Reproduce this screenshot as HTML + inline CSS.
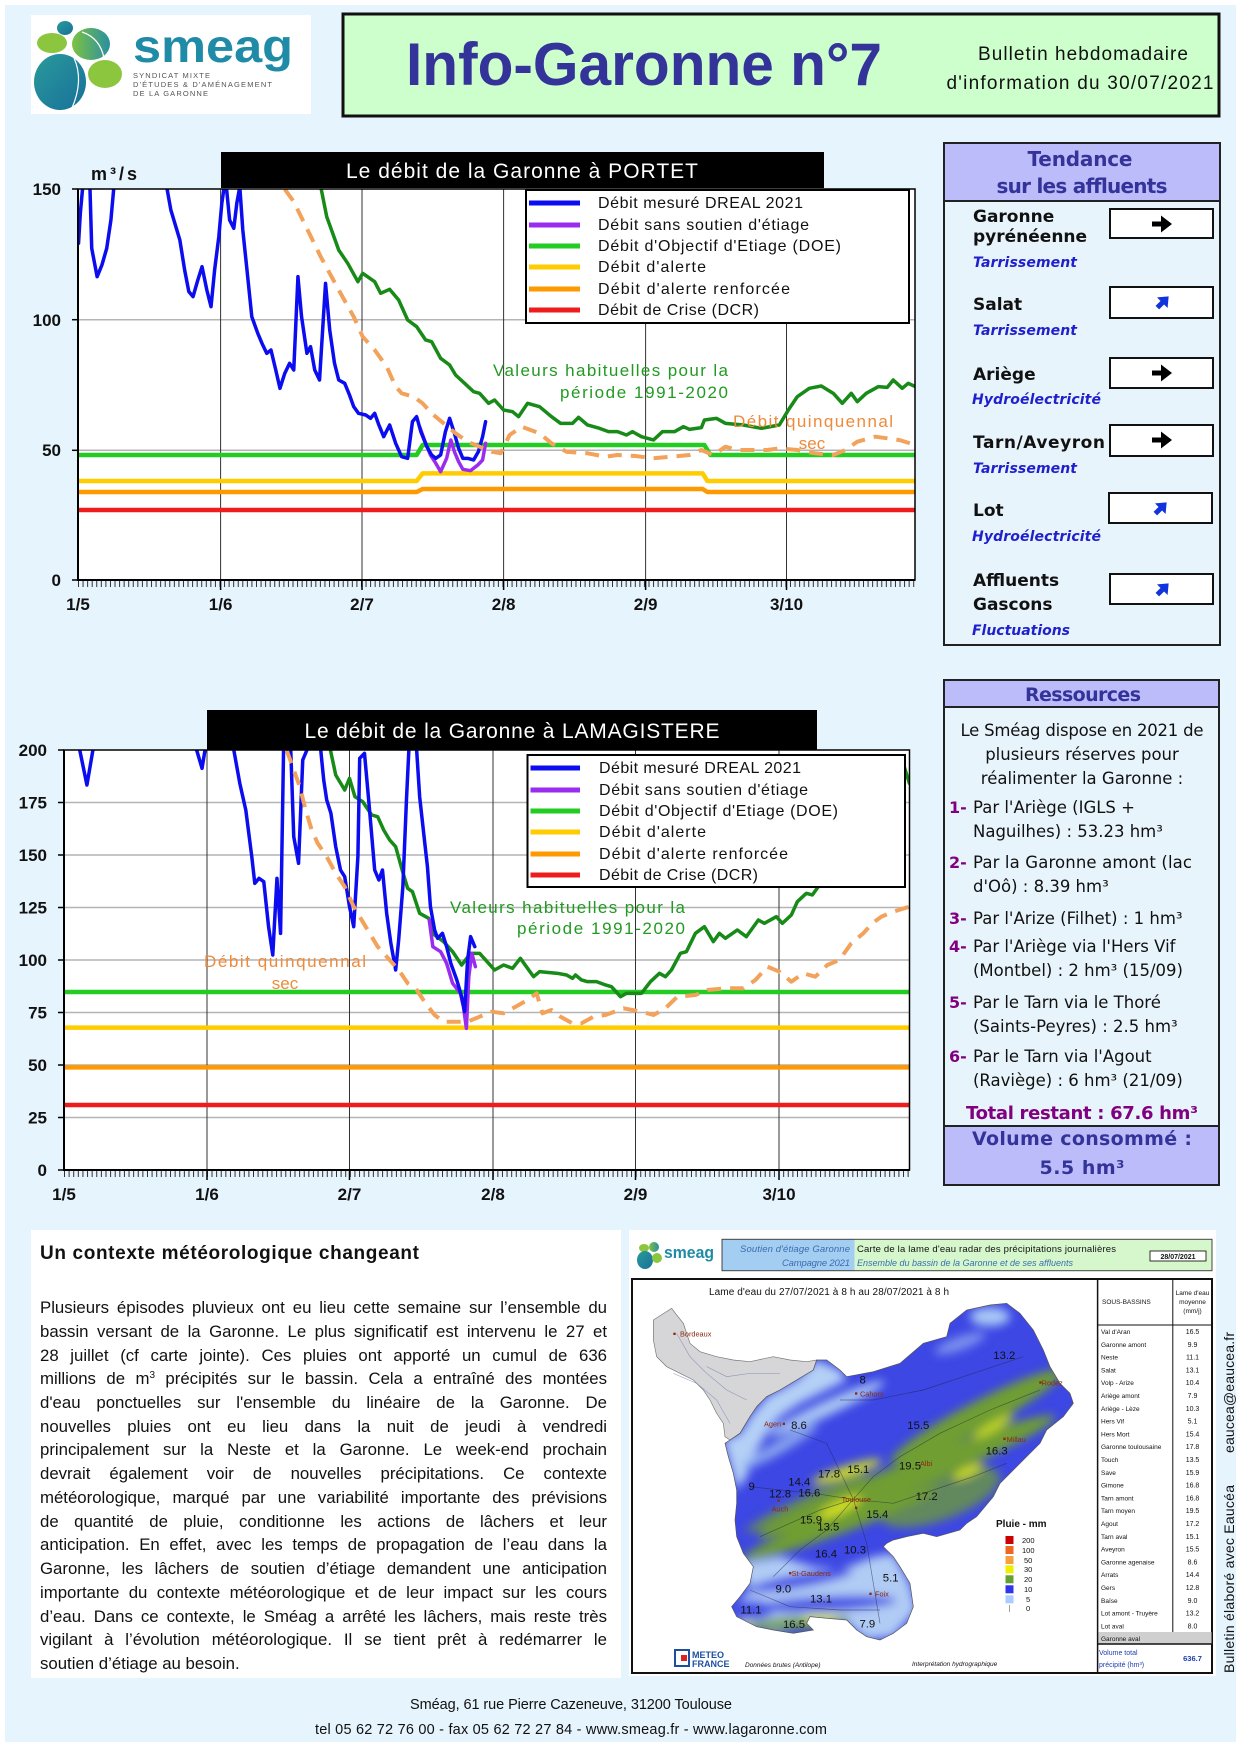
<!DOCTYPE html>
<html><head><meta charset="utf-8"><style>
html,body{margin:0;padding:0;background:#fff}
svg{display:block}
#wrap{position:relative;width:1240px;height:1754px;overflow:hidden}
.p{position:absolute;left:40px;width:567px;height:24px;font-family:"Liberation Sans",sans-serif;font-size:16.8px;line-height:23.73px;color:#111;text-align:justify;text-align-last:justify;white-space:nowrap}
.p.l{text-align-last:left}
.p sup{font-size:10px;line-height:0;vertical-align:6px}
</style></head>
<body>
<div id="wrap">
<svg xmlns="http://www.w3.org/2000/svg" width="1240" height="1754" viewBox="0 0 1240 1754" font-family="'Liberation Sans', sans-serif">
<defs>
<clipPath id="c1"><rect x="78" y="189" width="837" height="391"/></clipPath>
<clipPath id="c2"><rect x="64" y="750" width="845.5" height="420"/></clipPath>
<filter id="bl" x="-30%" y="-30%" width="160%" height="160%"><feGaussianBlur stdDeviation="14"/></filter>
<linearGradient id="lg1" x1="0" y1="0" x2="1" y2="1"><stop offset="0" stop-color="#8cc63f"/><stop offset="1" stop-color="#1f86a6"/></linearGradient>
<linearGradient id="lg2" x1="0" y1="0" x2="1" y2="1"><stop offset="0" stop-color="#2a9a9a"/><stop offset="1" stop-color="#17709a"/></linearGradient>
<linearGradient id="lg3" x1="0" y1="0" x2="1" y2="0"><stop offset="0" stop-color="#7dc242"/><stop offset="1" stop-color="#2a8fa0"/></linearGradient>
</defs>

<rect x="5" y="5" width="1231" height="1737" fill="#e6f4fd"/>

<!-- logo -->
<rect x="31" y="15" width="280" height="99" fill="#fff"/>
<ellipse cx="65" cy="28" rx="8" ry="7" fill="url(#lg2)"/>
<ellipse cx="52" cy="43" rx="15" ry="10" fill="#8cc63f"/>
<ellipse cx="91" cy="44" rx="19" ry="16" fill="url(#lg3)"/>
<ellipse cx="60" cy="82" rx="26" ry="28" fill="url(#lg2)"/>
<ellipse cx="105" cy="74" rx="17" ry="14" fill="#8cc63f"/>
<path d="M74,58 Q84,80 72,108" stroke="#fff" stroke-width="1.2" fill="none"/>
<path d="M82,32 Q100,38 104,58" stroke="#fff" stroke-width="1.2" fill="none"/>
<text x="133" y="62" font-size="46" font-weight="bold" fill="#1f8ba6" textLength="160" lengthAdjust="spacingAndGlyphs">smeag</text>
<text x="133" y="78" font-size="7.5" fill="#555" textLength="77">SYNDICAT MIXTE</text>
<text x="133" y="87" font-size="7.5" fill="#555" textLength="139">D'ÉTUDES &amp; D'AMÉNAGEMENT</text>
<text x="133" y="96" font-size="7.5" fill="#555" textLength="75">DE LA GARONNE</text>

<!-- title box -->
<rect x="343" y="14" width="876" height="102" fill="#ccffcc" stroke="#111" stroke-width="3"/>
<text x="406" y="85" font-size="60" font-weight="bold" fill="#333399" textLength="476" lengthAdjust="spacingAndGlyphs">Info-Garonne n°7</text>
<text x="1083" y="60" font-size="19" text-anchor="middle" fill="#111" textLength="210">Bulletin hebdomadaire</text>
<text x="1080" y="89" font-size="19" text-anchor="middle" fill="#111" textLength="267">d'information du 30/07/2021</text>

<!-- ================= CHART 1 ================= -->
<rect x="78" y="189" width="837" height="391" fill="#fff"/>
<g stroke="#b4b4b4" stroke-width="1.5">
<line x1="78" y1="319.7" x2="915" y2="319.7"/><line x1="78" y1="450.3" x2="915" y2="450.3"/>
</g>
<g stroke="#333" stroke-width="1">
<line x1="220.6" y1="189" x2="220.6" y2="580"/><line x1="362" y1="189" x2="362" y2="580"/>
<line x1="503.6" y1="189" x2="503.6" y2="580"/><line x1="645.6" y1="189" x2="645.6" y2="580"/>
<line x1="786.5" y1="189" x2="786.5" y2="580"/>
</g>
<g clip-path="url(#c1)">
<g transform="translate(0,130) scale(0.59949,0.33333)" fill="none" stroke-linejoin="round" stroke-linecap="round">
<polyline vector-effect="non-scaling-stroke" stroke="#ee1c1c" stroke-width="4.5" points="130,1140 1527,1140"/>
<polyline vector-effect="non-scaling-stroke" stroke="#ff9900" stroke-width="4.5" points="130,1086 695,1086 705,1077 1172,1077 1180,1086 1527,1086"/>
<polyline vector-effect="non-scaling-stroke" stroke="#ffcc00" stroke-width="4.5" points="130,1053 695,1053 705,1030 1172,1030 1180,1053 1527,1053"/>
<polyline vector-effect="non-scaling-stroke" stroke="#22cc22" stroke-width="4.5" points="130,975 695,975 705,945 1175,945 1185,975 1527,975"/>
<polyline vector-effect="non-scaling-stroke" stroke="#178a17" stroke-width="3.5" points="535,170 545,260 565,360 580,400 597,455 605,430 625,455 635,490 650,478 665,510 680,570 695,590 710,630 720,635 735,685 750,705 760,735 775,760 790,785 800,790 815,820 825,810 840,840 855,845 865,860 880,820 900,830 920,860 935,880 955,880 965,862 980,885 1000,895 1015,905 1030,905 1045,915 1055,905 1070,920 1090,930 1105,905 1125,905 1140,890 1150,898 1170,893 1175,870 1195,865 1210,880 1240,885 1270,895 1300,885 1315,840 1330,800 1350,775 1370,768 1390,790 1405,820 1420,790 1430,815 1445,790 1465,770 1480,772 1490,750 1505,775 1515,760 1527,770"/>
<polyline vector-effect="non-scaling-stroke" stroke="#9a2cf0" stroke-width="3.5" points="700,890 708,930 718,975 727,1000 735,1025 745,985 752,930 758,965 765,995 772,1018 785,1022 797,1005 805,990 810,940"/>
<polyline vector-effect="non-scaling-stroke" stroke="#0c0cf0" stroke-width="3.5" points="131,340 134,250 138,170"/>
<polyline vector-effect="non-scaling-stroke" stroke="#0c0cf0" stroke-width="3.5" points="150,170 153,355 162,440 170,405 178,355 185,270 190,170"/>
<polyline vector-effect="non-scaling-stroke" stroke="#0c0cf0" stroke-width="3.5" points="278,170 285,240 295,300 300,330 308,420 315,485 322,500 330,450 337,410 345,480 352,530 358,420 365,320 370,220 374,170 378,178 383,270 390,295 395,220 400,170 405,300 412,420 420,560 430,610 437,640 445,670 452,660 460,720 467,775 475,730 483,700 490,720 497,440 503,560 512,670 518,650 525,720 533,750 543,460 550,600 558,700 565,750 575,760 583,795 590,830 598,850 610,855 618,865 625,850 632,885 640,920 650,885 660,940 670,980 680,985 688,875 695,860 702,905 712,950 720,975 727,985 735,975 743,905 750,865 758,910 765,955 772,985 780,985 790,990 798,965 805,920 810,875"/>
</g>
<polyline fill="none" stroke="#f2a25a" stroke-width="4" stroke-dasharray="14 9" stroke-linejoin="round" points="284.8,189.3 293.8,201.7 302.7,220 311.7,238.3 320.7,256.7 329.7,273.3 338.7,290 353.7,316.7 362.7,336.7 374.7,350 386.7,366.7 395.7,386.7 401.7,393.3 413.7,396.7 422.6,403.3 431.6,413.3 443.6,423.3 455.6,433.3 467.6,441.7 479.6,446.7 491.6,451.7 500.6,453.3 509.6,435 521.6,426.7 539.6,433.3 551.5,443.3 566.5,451.7 587.5,453.3 605.5,456.7 617.5,455 635.5,456 653.5,458.3 671.4,456.7 689.4,455 701.4,450 713.4,455 725.4,446.7 737.4,450 749.4,450 767.4,450 779.4,448.3 797.3,450 815.3,453.3 833.3,455 845.3,450 857.3,441.7 875.3,436.7 887.3,438.3 899.3,440 915.4,445"/>
</g>
<rect x="78" y="189" width="837" height="391" fill="none" stroke="#000" stroke-width="1.5"/>
<line x1="78" y1="189" x2="78" y2="581" stroke="#000" stroke-width="2"/>
<line x1="77" y1="580" x2="915" y2="580" stroke="#000" stroke-width="2"/>
<line x1="78" y1="584" x2="915" y2="584" stroke="#333" stroke-width="6" stroke-dasharray="1 3.564"/>
<g stroke="#000" stroke-width="1.5">
<line x1="72" y1="189" x2="78" y2="189"/><line x1="72" y1="319.7" x2="78" y2="319.7"/><line x1="72" y1="450.3" x2="78" y2="450.3"/><line x1="72" y1="580" x2="78" y2="580"/>
<line x1="220.6" y1="580" x2="220.6" y2="590"/><line x1="362" y1="580" x2="362" y2="590"/><line x1="503.6" y1="580" x2="503.6" y2="590"/><line x1="645.6" y1="580" x2="645.6" y2="590"/><line x1="786.5" y1="580" x2="786.5" y2="590"/>
</g>
<g font-size="17" font-weight="bold" fill="#111" text-anchor="end">
<text x="61" y="195">150</text><text x="61" y="326">100</text><text x="61" y="456">50</text><text x="61" y="586">0</text>
</g>
<g font-size="17" font-weight="bold" fill="#111" text-anchor="middle">
<text x="78" y="610">1/5</text><text x="220.6" y="610">1/6</text><text x="362" y="610">2/7</text><text x="503.6" y="610">2/8</text><text x="645.6" y="610">2/9</text><text x="786.5" y="610">3/10</text>
</g>
<text x="91" y="180" font-size="18" font-weight="bold" fill="#111" textLength="46">m³/s</text>
<rect x="221" y="152" width="603" height="36" fill="#000"/>
<text x="522" y="178" font-size="21" fill="#fff" text-anchor="middle" textLength="352">Le débit de la Garonne à PORTET</text>
<text x="728" y="376" font-size="17" fill="#229a22" text-anchor="end" textLength="235">Valeurs habituelles pour la</text>
<text x="728" y="398" font-size="17" fill="#229a22" text-anchor="end" textLength="168">période 1991-2020</text>
<text x="733" y="427" font-size="17" fill="#ee8a3a" textLength="160">Débit quinquennal</text>
<text x="812" y="449" font-size="17" fill="#ee8a3a" text-anchor="middle">sec</text>
<rect x="526" y="190" width="383" height="133" fill="#fff" stroke="#000" stroke-width="2"/>
<g stroke-width="5">
<line x1="529" y1="203" x2="580" y2="203" stroke="#0c0cf0"/>
<line x1="529" y1="225" x2="580" y2="225" stroke="#9a2cf0"/>
<line x1="529" y1="246" x2="580" y2="246" stroke="#22cc22"/>
<line x1="529" y1="267" x2="580" y2="267" stroke="#ffcc00"/>
<line x1="529" y1="289" x2="580" y2="289" stroke="#ff9900"/>
<line x1="529" y1="310" x2="580" y2="310" stroke="#ee1c1c"/>
</g>
<g font-size="16" fill="#111">
<text x="598" y="208" textLength="205">Débit mesuré DREAL 2021</text>
<text x="598" y="230" textLength="211">Débit sans soutien d'étiage</text>
<text x="598" y="251" textLength="243">Débit d'Objectif d'Etiage (DOE)</text>
<text x="598" y="272" textLength="108">Débit d'alerte</text>
<text x="598" y="294" textLength="192">Débit d'alerte renforcée</text>
<text x="598" y="315" textLength="161">Débit de Crise (DCR)</text>
</g>

<!-- ================= CHART 2 ================= -->
<rect x="64" y="750" width="845.5" height="420" fill="#fff"/>
<g stroke="#b4b4b4" stroke-width="1.5">
<line x1="64" y1="802.5" x2="909.5" y2="802.5"/><line x1="64" y1="855" x2="909.5" y2="855"/><line x1="64" y1="907.5" x2="909.5" y2="907.5"/>
<line x1="64" y1="960" x2="909.5" y2="960"/><line x1="64" y1="1012.5" x2="909.5" y2="1012.5"/><line x1="64" y1="1065" x2="909.5" y2="1065"/><line x1="64" y1="1117.5" x2="909.5" y2="1117.5"/>
</g>
<g stroke="#333" stroke-width="1">
<line x1="207" y1="750" x2="207" y2="1170"/><line x1="349.5" y1="750" x2="349.5" y2="1170"/><line x1="493" y1="750" x2="493" y2="1170"/>
<line x1="635.5" y1="750" x2="635.5" y2="1170"/><line x1="779" y1="750" x2="779" y2="1170"/>
</g>
<g clip-path="url(#c2)">
<g transform="translate(0,700) scale(0.59949,0.33333)" fill="none" stroke-linejoin="round" stroke-linecap="round">
<polyline vector-effect="non-scaling-stroke" stroke="#ee1c1c" stroke-width="4.5" points="107,1215 1517,1215"/>
<polyline vector-effect="non-scaling-stroke" stroke="#ff9900" stroke-width="4.5" points="107,1102 1517,1102"/>
<polyline vector-effect="non-scaling-stroke" stroke="#ffcc00" stroke-width="4.5" points="107,983 1517,983"/>
<polyline vector-effect="non-scaling-stroke" stroke="#22cc22" stroke-width="4.5" points="107,876 1517,876"/>
<polyline vector-effect="non-scaling-stroke" stroke="#178a17" stroke-width="3.5" points="550,140 560,225 575,270 583,235 592,290 605,305 620,345 630,350 640,390 650,420 660,440 670,505 680,565 688,575 700,640 715,655 725,705 740,725 755,755 770,795 785,760 800,760 815,790 825,810 840,795 855,805 868,775 880,805 890,830 900,815 930,820 945,825 955,835 960,825 970,840 980,845 995,845 1010,855 1020,860 1035,890 1045,880 1070,880 1085,845 1100,820 1110,830 1120,810 1135,760 1145,755 1160,700 1175,680 1190,725 1200,700 1210,715 1230,690 1245,710 1265,660 1275,670 1295,650 1305,670 1320,645 1330,605 1345,580 1355,585 1365,560 1400,470 1450,330 1490,220 1505,180 1510,210 1517,250"/>
<polyline vector-effect="non-scaling-stroke" stroke="#9a2cf0" stroke-width="3.5" points="716,660 722,740 735,755 745,790 755,850 768,880 773,920 778,985 782,830 787,760 793,800"/>
<polyline vector-effect="non-scaling-stroke" stroke="#0c0cf0" stroke-width="3.5" points="130,140 133,150 145,255 155,150 157,140"/>
<polyline vector-effect="non-scaling-stroke" stroke="#0c0cf0" stroke-width="3.5" points="325,140 328,150 337,205 342,150 344,140"/>
<polyline vector-effect="non-scaling-stroke" stroke="#0c0cf0" stroke-width="3.5" points="388,140 390,150 400,250 410,330 420,470 425,550 432,535 440,545 448,680 455,765 462,535 468,700 473,150 475,140"/>
<polyline vector-effect="non-scaling-stroke" stroke="#0c0cf0" stroke-width="3.5" points="483,140 485,150 490,410 498,490 505,180 512,150 514,140"/>
<polyline vector-effect="non-scaling-stroke" stroke="#0c0cf0" stroke-width="3.5" points="533,140 535,150 540,240 545,300 552,340 560,440 568,510 575,530 583,620 590,680 597,470 600,175 608,160 615,300 625,510 632,540 638,510 645,640 652,730 660,810 665,720 672,560 678,300 682,150 684,140"/>
<polyline vector-effect="non-scaling-stroke" stroke="#0c0cf0" stroke-width="3.5" points="693,140 695,150 700,290 708,420 713,500 718,620 725,690 730,715 738,700 745,740 752,790 762,840 770,890 775,935 780,780 785,710 792,740"/>
</g>
<polyline fill="none" stroke="#f2a25a" stroke-width="4" stroke-dasharray="14 9" stroke-linejoin="round" points="286.6,750 293.8,770 299.8,786.7 305.7,810 311.7,830 317.7,843.3 326.7,856.7 335.7,873.3 344.7,886.7 353.7,906.7 365.7,926.7 377.7,946.7 389.7,960 398.7,970 407.7,983.3 416.7,990 425.6,1003.3 434.6,1015 443.6,1021.7 455.6,1021.7 467.6,1021.7 479.6,1016.7 491.6,1011.7 503.6,1013.3 515.6,1006.7 527.6,1000 536.6,993.3 542.5,1013.3 551.5,1010 560.5,1016.7 572.5,1023.3 581.5,1023.3 593.5,1016.7 605.5,1015 623.5,1008.3 641.5,1011.7 653.5,1015 665.4,1008.3 677.4,996.7 695.4,995 707.4,990 725.4,988.3 743.4,988.3 755.4,980 767.4,966.7 779.4,971.7 791.3,981.7 803.3,973.3 815.3,976.7 827.3,965 839.3,960 851.3,943.3 863.3,933.3 872.3,923.3 881.3,916.7 893.3,911.7 909.4,906.7"/>
</g>
<rect x="64" y="750" width="845.5" height="420" fill="none" stroke="#000" stroke-width="1.5"/>
<line x1="64" y1="750" x2="64" y2="1171" stroke="#000" stroke-width="2"/>
<line x1="63" y1="1170" x2="909.5" y2="1170" stroke="#000" stroke-width="2"/>
<line x1="64" y1="1174" x2="909.5" y2="1174" stroke="#333" stroke-width="6" stroke-dasharray="1 3.61"/>
<g stroke="#000" stroke-width="1.5">
<line x1="58" y1="750" x2="64" y2="750"/><line x1="58" y1="802.5" x2="64" y2="802.5"/><line x1="58" y1="855" x2="64" y2="855"/><line x1="58" y1="907.5" x2="64" y2="907.5"/><line x1="58" y1="960" x2="64" y2="960"/><line x1="58" y1="1012.5" x2="64" y2="1012.5"/><line x1="58" y1="1065" x2="64" y2="1065"/><line x1="58" y1="1117.5" x2="64" y2="1117.5"/><line x1="58" y1="1170" x2="64" y2="1170"/>
<line x1="207" y1="1170" x2="207" y2="1180"/><line x1="349.5" y1="1170" x2="349.5" y2="1180"/><line x1="493" y1="1170" x2="493" y2="1180"/><line x1="635.5" y1="1170" x2="635.5" y2="1180"/><line x1="779" y1="1170" x2="779" y2="1180"/>
</g>
<g font-size="17" font-weight="bold" fill="#111" text-anchor="end">
<text x="47" y="756">200</text><text x="47" y="808.5">175</text><text x="47" y="861">150</text><text x="47" y="913.5">125</text><text x="47" y="966">100</text><text x="47" y="1018.5">75</text><text x="47" y="1071">50</text><text x="47" y="1123.5">25</text><text x="47" y="1176">0</text>
</g>
<g font-size="17" font-weight="bold" fill="#111" text-anchor="middle">
<text x="64" y="1200">1/5</text><text x="207" y="1200">1/6</text><text x="349.5" y="1200">2/7</text><text x="493" y="1200">2/8</text><text x="635.5" y="1200">2/9</text><text x="779" y="1200">3/10</text>
</g>
<rect x="207" y="710" width="610" height="40" fill="#000"/>
<text x="512" y="738" font-size="21" fill="#fff" text-anchor="middle" textLength="415">Le débit de la Garonne à LAMAGISTERE</text>
<text x="685" y="913" font-size="17" fill="#229a22" text-anchor="end" textLength="235">Valeurs habituelles pour la</text>
<text x="685" y="934" font-size="17" fill="#229a22" text-anchor="end" textLength="168">période 1991-2020</text>
<text x="204" y="967" font-size="17" fill="#ee8a3a" textLength="162">Débit quinquennal</text>
<text x="285" y="989" font-size="17" fill="#ee8a3a" text-anchor="middle">sec</text>
<rect x="527.5" y="755" width="377.5" height="132" fill="#fff" stroke="#000" stroke-width="2"/>
<g stroke-width="5">
<line x1="530.5" y1="768" x2="580" y2="768" stroke="#0c0cf0"/>
<line x1="530.5" y1="790" x2="580" y2="790" stroke="#9a2cf0"/>
<line x1="530.5" y1="811" x2="580" y2="811" stroke="#22cc22"/>
<line x1="530.5" y1="832" x2="580" y2="832" stroke="#ffcc00"/>
<line x1="530.5" y1="854" x2="580" y2="854" stroke="#ff9900"/>
<line x1="530.5" y1="875" x2="580" y2="875" stroke="#ee1c1c"/>
</g>
<g font-size="16" fill="#111">
<text x="599" y="773" textLength="202">Débit mesuré DREAL 2021</text>
<text x="599" y="795" textLength="209">Débit sans soutien d'étiage</text>
<text x="599" y="816" textLength="239">Débit d'Objectif d'Etiage (DOE)</text>
<text x="599" y="837" textLength="107">Débit d'alerte</text>
<text x="599" y="859" textLength="189">Débit d'alerte renforcée</text>
<text x="599" y="880" textLength="159">Débit de Crise (DCR)</text>
</g>

<!-- ================= TENDANCE ================= -->
<rect x="944" y="143" width="276" height="502" fill="#e8f4fc" stroke="#222" stroke-width="2"/>
<rect x="945" y="144" width="274" height="57" fill="#bcbcfa"/>
<line x1="944" y1="201" x2="1220" y2="201" stroke="#222" stroke-width="2"/>
<g font-family="'DejaVu Sans', sans-serif" font-weight="bold" fill="#333399" text-anchor="middle">
<text x="1080" y="166" font-size="20" textLength="105">Tendance</text>
<text x="1082" y="193" font-size="20" textLength="171">sur les affluents</text>
</g>
<g font-family="'DejaVu Sans', sans-serif" font-weight="bold" fill="#111" font-size="17">
<text x="973" y="222">Garonne</text><text x="973" y="242">pyrénéenne</text>
<text x="973" y="310">Salat</text>
<text x="973" y="380">Ariège</text>
<text x="973" y="448" textLength="132">Tarn/Aveyron</text>
<text x="973" y="516">Lot</text>
<text x="973" y="586">Affluents</text><text x="973" y="610">Gascons</text>
</g>
<g font-family="'DejaVu Sans', sans-serif" font-weight="bold" font-style="italic" fill="#1f1fcc" font-size="14">
<text x="973" y="267" textLength="104">Tarrissement</text>
<text x="973" y="335" textLength="104">Tarrissement</text>
<text x="972" y="404" textLength="129">Hydroélectricité</text>
<text x="973" y="473" textLength="104">Tarrissement</text>
<text x="972" y="541" textLength="129">Hydroélectricité</text>
<text x="972" y="635" textLength="98">Fluctuations</text>
</g>
<g fill="#fff" stroke="#111" stroke-width="2">
<rect x="1110" y="209" width="103" height="29"/>
<rect x="1110" y="287" width="103" height="31"/>
<rect x="1110" y="358" width="103" height="30"/>
<rect x="1110" y="425" width="103" height="31"/>
<rect x="1109" y="493" width="103" height="30"/>
<rect x="1110" y="574" width="103" height="30"/>
</g>
<g fill="#000">
<path transform="translate(1162,224)" d="M-10,-2.5 h9 v-6 l11,8.5 l-11,8.5 v-6 h-9 z"/>
<path transform="translate(1162,373)" d="M-10,-2.5 h9 v-6 l11,8.5 l-11,8.5 v-6 h-9 z"/>
<path transform="translate(1162,440)" d="M-10,-2.5 h9 v-6 l11,8.5 l-11,8.5 v-6 h-9 z"/>
</g>
<g fill="#1133dd">
<path transform="translate(1163,302) rotate(-45)" d="M-8,-2.5 h7 v-5 l9,7.5 l-9,7.5 v-5 h-7 z"/>
<path transform="translate(1161,508) rotate(-45)" d="M-8,-2.5 h7 v-5 l9,7.5 l-9,7.5 v-5 h-7 z"/>
<path transform="translate(1163,589) rotate(-45)" d="M-8,-2.5 h7 v-5 l9,7.5 l-9,7.5 v-5 h-7 z"/>
</g>

<!-- ================= RESSOURCES ================= -->
<rect x="944" y="680" width="275" height="505" fill="#e8f4fc" stroke="#222" stroke-width="2"/>
<rect x="945" y="681" width="273" height="26" fill="#bcbcfa"/>
<line x1="944" y1="707" x2="1219" y2="707" stroke="#222" stroke-width="2"/>
<rect x="945" y="1126" width="273" height="58" fill="#bcbcfa"/>
<line x1="944" y1="1126" x2="1219" y2="1126" stroke="#222" stroke-width="2"/>
<g font-family="'DejaVu Sans', sans-serif">
<text x="1083" y="701" font-size="19" font-weight="bold" fill="#333399" text-anchor="middle" textLength="116">Ressources</text>
<g font-size="16.5" fill="#111" text-anchor="middle">
<text x="1082" y="736" textLength="243">Le Sméag dispose en 2021 de</text>
<text x="1082" y="760">plusieurs réserves pour</text>
<text x="1082" y="784">réalimenter la Garonne :</text>
</g>
<g font-size="16" font-weight="bold" fill="#800080">
<text x="949" y="813">1-</text><text x="949" y="868">2-</text><text x="949" y="924">3-</text><text x="949" y="952">4-</text><text x="949" y="1008">5-</text><text x="949" y="1062">6-</text>
</g>
<g font-size="16.5" fill="#111">
<text x="973" y="813">Par l'Ariège (IGLS +</text>
<text x="973" y="837">Naguilhes) : 53.23 hm³</text>
<text x="973" y="868" textLength="219">Par la Garonne amont (lac</text>
<text x="973" y="892">d'Oô) : 8.39 hm³</text>
<text x="973" y="924">Par l'Arize (Filhet) : 1 hm³</text>
<text x="973" y="952">Par l'Ariège via l'Hers Vif</text>
<text x="973" y="976">(Montbel) : 2 hm³  (15/09)</text>
<text x="973" y="1008">Par le Tarn via le Thoré</text>
<text x="973" y="1032">(Saints-Peyres) : 2.5 hm³</text>
<text x="973" y="1062">Par le Tarn via l'Agout</text>
<text x="973" y="1086">(Raviège) : 6 hm³  (21/09)</text>
</g>
<text x="1082" y="1119" font-size="18" font-weight="bold" fill="#800080" text-anchor="middle" textLength="232">Total restant : 67.6 hm³</text>
<text x="1082" y="1145" font-size="19" font-weight="bold" fill="#333399" text-anchor="middle" textLength="220">Volume consommé  :</text>
<text x="1082" y="1174" font-size="19" font-weight="bold" fill="#333399" text-anchor="middle" textLength="85">5.5 hm³</text>
</g>

<!-- ================= TEXT PANEL ================= -->
<rect x="31" y="1230" width="590" height="448" fill="#fff"/>
<text x="40" y="1259" font-size="19" font-weight="bold" fill="#111" textLength="379">Un contexte météorologique changeant</text>

<!-- ================= MAP ================= -->
<rect x="629" y="1230" width="587" height="446" fill="#fff"/>
<ellipse cx="644" cy="1248" rx="5" ry="4" fill="#8cc63f"/>
<ellipse cx="654" cy="1247" rx="5" ry="5" fill="url(#lg3)"/>
<ellipse cx="645" cy="1260" rx="8" ry="9" fill="url(#lg2)"/>
<ellipse cx="657" cy="1258" rx="5" ry="5" fill="#8cc63f"/>
<text x="664" y="1258" font-size="17" font-weight="bold" fill="#1f8ba6" textLength="50" lengthAdjust="spacingAndGlyphs">smeag</text>
<rect x="722" y="1239.3" width="132.5" height="31.4" fill="#a4cdf2"/>
<rect x="854.5" y="1239.3" width="357.5" height="31.4" fill="#d6f7cc"/>
<rect x="722" y="1239.3" width="490" height="31.4" fill="none" stroke="#444" stroke-width="1"/>
<text x="850" y="1252" font-size="9.5" font-style="italic" fill="#3b6db0" text-anchor="end" textLength="110">Soutien d'étiage Garonne</text>
<text x="850" y="1266" font-size="9.5" font-style="italic" fill="#3b6db0" text-anchor="end" textLength="68">Campagne 2021</text>
<text x="857" y="1252" font-size="9.5" fill="#111" textLength="259">Carte de la lame d'eau radar des précipitations journalières</text>
<text x="857" y="1266" font-size="9" font-style="italic" fill="#3b6db0" textLength="216">Ensemble du bassin de la Garonne et de ses affluents</text>
<rect x="1150" y="1251" width="56" height="10" fill="#fff" stroke="#000" stroke-width="0.8"/>
<text x="1178" y="1259" font-size="7" font-weight="bold" text-anchor="middle" fill="#111">28/07/2021</text>

<rect x="632" y="1279" width="580" height="394" fill="#fff" stroke="#111" stroke-width="2"/>
<text x="709" y="1295" font-size="10" fill="#111" textLength="240">Lame d'eau du 27/07/2021 à 8 h au 28/07/2021 à 8 h</text>

<g transform="translate(640,1290) scale(0.33333)">
<clipPath id="bas"><polygon points="270,450 300,430 330,380 350,350 380,320 420,300 470,270 520,240 530,210 560,210 600,240 620,260 700,245 780,220 850,160 920,140 930,100 980,60 1050,45 1100,40 1140,70 1180,120 1210,180 1230,230 1260,280 1290,310 1300,340 1270,380 1220,420 1200,460 1160,500 1120,540 1080,580 1060,620 1010,680 980,700 960,720 890,740 850,730 800,740 760,750 740,760 730,770 760,800 780,830 810,880 820,950 800,1000 760,1030 720,1050 680,1040 650,1020 620,990 560,985 510,980 500,1000 520,1020 460,1030 400,1020 350,1010 310,990 290,980 275,950 300,920 330,880 340,830 310,790 290,740 285,690 290,640 290,600 280,550 265,500 255,460"/></clipPath>
<polygon points="40,90 95,55 110,75 130,100 150,160 180,185 230,200 280,210 330,215 400,200 450,210 500,215 530,210 520,240 470,270 420,300 380,320 350,350 330,380 300,430 270,450 255,440 250,400 230,370 210,330 190,300 160,270 120,250 80,230 50,200 40,150" fill="#d6d6d8" stroke="#777" stroke-width="2"/>
<g fill="none" stroke="#6677aa" stroke-width="1.6" opacity="0.7">
<polyline points="110,130 150,200 200,250 260,300 320,330"/>
<polyline points="100,250 170,280 230,330 270,400"/>
<polyline points="200,230 260,260 330,250 420,250"/>
</g>
<g clip-path="url(#bas)">
<rect x="200" y="0" width="1200" height="1100" fill="#3d47e4"/>
<g filter="url(#bl)">
<polygon points="250,450 300,430 330,380 380,320 470,270 530,210 600,240 620,270 560,300 480,340 420,380 380,430 340,500 320,560 290,600" fill="#b4d0f5"/>
<ellipse cx="560" cy="355" rx="190" ry="22" transform="rotate(-25 560 355)" fill="#a8c6f2"/>
<ellipse cx="420" cy="470" rx="130" ry="18" transform="rotate(-30 420 470)" fill="#8aa8ee"/>
<polygon points="300,820 420,800 520,830 600,840 700,800 760,790 810,880 830,960 760,1040 680,1050 620,1000 560,990 500,1010 400,1030 300,1000 280,950 330,900" fill="#b0ccf4"/>
<ellipse cx="480" cy="872" rx="160" ry="20" transform="rotate(-10 480 872)" fill="#4450e6"/>
<ellipse cx="560" cy="942" rx="210" ry="22" transform="rotate(-3 560 942)" fill="#4450e6"/>
<ellipse cx="330" cy="960" rx="70" ry="30" fill="#4450e6"/>
<ellipse cx="1050" cy="80" rx="60" ry="28" fill="#a8c8f4"/>
<ellipse cx="960" cy="160" rx="80" ry="20" transform="rotate(-20 960 160)" fill="#7c92ee"/>
<ellipse cx="800" cy="560" rx="480" ry="42" transform="rotate(-22 800 560)" fill="#6f9e30"/>
<ellipse cx="1010" cy="380" rx="290" ry="42" transform="rotate(-28 1010 380)" fill="#6f9e30"/>
<ellipse cx="900" cy="620" rx="190" ry="70" transform="rotate(-20 900 620)" fill="#6f9e30" opacity="0.75"/>
<ellipse cx="600" cy="700" rx="310" ry="30" transform="rotate(-20 600 700)" fill="#6f9e30"/>
<ellipse cx="500" cy="640" rx="200" ry="22" transform="rotate(-25 500 640)" fill="#6f9e30" opacity="0.8"/>
<ellipse cx="470" cy="998" rx="160" ry="18" transform="rotate(-5 470 998)" fill="#6f9e30"/>
<ellipse cx="1150" cy="300" rx="90" ry="25" transform="rotate(-30 1150 300)" fill="#6f9e30"/>
<ellipse cx="620" cy="545" rx="110" ry="17" transform="rotate(-18 620 545)" fill="#d2e020"/>
<ellipse cx="600" cy="652" rx="70" ry="18" transform="rotate(-25 600 652)" fill="#d2e020"/>
<ellipse cx="985" cy="545" rx="50" ry="14" transform="rotate(-25 985 545)" fill="#d2e020"/>
<ellipse cx="1060" cy="410" rx="70" ry="13" transform="rotate(-30 1060 410)" fill="#c4d828"/>
<ellipse cx="545" cy="985" rx="60" ry="12" fill="#d2e020"/>
<ellipse cx="322" cy="1005" rx="15" ry="12" fill="#d2e020"/>
</g>
<g fill="none" stroke="#222244" stroke-width="2" opacity="0.55">
<polyline points="330,590 420,600 520,610 640,628"/>
<polyline points="360,740 450,700 540,660 640,628"/>
<polyline points="400,860 480,780 560,720 640,628"/>
<polyline points="640,628 700,560 780,500 900,430 1050,360 1200,300"/>
<polyline points="640,628 760,640 880,600 1000,560 1100,520"/>
<polyline points="640,628 680,760 700,880 720,1000"/>
<polyline points="450,420 560,460 640,628"/>
<polyline points="600,330 700,330 850,300 1000,250 1150,200"/>
<polyline points="330,900 450,950 600,960 720,960"/>
</g>
</g>
<polygon points="270,450 300,430 330,380 350,350 380,320 420,300 470,270 520,240 530,210 560,210 600,240 620,260 700,245 780,220 850,160 920,140 930,100 980,60 1050,45 1100,40 1140,70 1180,120 1210,180 1230,230 1260,280 1290,310 1300,340 1270,380 1220,420 1200,460 1160,500 1120,540 1080,580 1060,620 1010,680 980,700 960,720 890,740 850,730 800,740 760,750 740,760 730,770 760,800 780,830 810,880 820,950 800,1000 760,1030 720,1050 680,1040 650,1020 620,990 560,985 510,980 500,1000 520,1020 460,1030 400,1020 350,1010 310,990 290,980 275,950 300,920 330,880 340,830 310,790 290,740 285,690 290,640 290,600 280,550 265,500 255,460" fill="none" stroke="#555" stroke-width="2"/>
<g font-size="34" fill="#111" text-anchor="middle">
<text x="1093" y="207">13.2</text><text x="668" y="280">8</text><text x="477" y="417">8.6</text><text x="835" y="417">15.5</text>
<text x="1070" y="494">16.3</text><text x="810" y="539">19.5</text><text x="655" y="549">15.1</text><text x="567" y="562">17.8</text>
<text x="478" y="587">14.4</text><text x="335" y="600">9</text><text x="420" y="622">12.8</text><text x="508" y="620">16.6</text>
<text x="860" y="630">17.2</text><text x="712" y="684">15.4</text><text x="513" y="700">15.9</text><text x="565" y="722">13.5</text>
<text x="558" y="802">16.4</text><text x="645" y="790">10.3</text><text x="752" y="874">5.1</text><text x="430" y="907">9.0</text>
<text x="543" y="937">13.1</text><text x="333" y="970">11.1</text><text x="462" y="1014">16.5</text><text x="682" y="1012">7.9</text>
</g>
<g font-size="22" fill="#8a2a10">
<text x="120" y="140">Bordeaux</text><text x="660" y="320">Cahors</text><text x="1205" y="286">Rodez</text><text x="372" y="410">Agen</text>
<text x="1100" y="456">Millau</text><text x="840" y="528">Albi</text><text x="395" y="664">Auch</text><text x="605" y="636">Toulouse</text>
<text x="455" y="858">St-Gaudens</text><text x="705" y="920">Foix</text>
</g>
<g fill="#8a2a10">
<rect x="100" y="128" width="7" height="7"/><rect x="645" y="307" width="7" height="7"/><rect x="1198" y="274" width="7" height="7"/><rect x="428" y="398" width="7" height="7"/>
<rect x="1090" y="443" width="7" height="7"/><rect x="645" y="650" width="7" height="7"/><rect x="412" y="628" width="7" height="7"/><rect x="447" y="846" width="7" height="7"/><rect x="688" y="908" width="7" height="7"/>
</g>
</g>

<text x="996" y="1527" font-size="10" font-weight="bold" fill="#111">Pluie - mm</text>
<g>
<rect x="1005.5" y="1536" width="8" height="8" fill="#cc0000"/>
<rect x="1005.5" y="1546" width="8" height="8" fill="#ee6622"/>
<rect x="1005.5" y="1556" width="8" height="8" fill="#f4a040"/>
<rect x="1005.5" y="1565.3" width="8" height="8" fill="#eeee00"/>
<rect x="1005.5" y="1575.3" width="8" height="8" fill="#66a030"/>
<rect x="1005.5" y="1585.3" width="8" height="8" fill="#3333ee"/>
<rect x="1005.5" y="1595.3" width="8" height="8" fill="#aaccff"/>
<line x1="1009.5" y1="1605" x2="1009.5" y2="1612" stroke="#888" stroke-width="0.8"/>
</g>
<g font-size="7.5" fill="#111">
<text x="1022" y="1543">200</text><text x="1022" y="1553">100</text><text x="1024" y="1563">50</text><text x="1024" y="1572">30</text>
<text x="1024" y="1582">20</text><text x="1024" y="1592">10</text><text x="1026" y="1602">5</text><text x="1026" y="1611">0</text>
</g>
<rect x="675" y="1650" width="14" height="16" fill="#fff" stroke="#1d4fa0" stroke-width="2"/>
<rect x="681" y="1655" width="6" height="6" fill="#d22"/>
<text x="692" y="1658" font-size="9" font-weight="bold" fill="#1d4fa0">METEO</text>
<text x="692" y="1667" font-size="9" font-weight="bold" fill="#1d4fa0">FRANCE</text>
<text x="745" y="1667" font-size="6.5" font-style="italic" fill="#111">Données brutes (Antilope)</text>
<text x="912" y="1666" font-size="6.5" font-style="italic" fill="#111">Interprétation hydrographique</text>

<line x1="1097.6" y1="1279" x2="1097.6" y2="1673" stroke="#111" stroke-width="1.5"/>
<line x1="1172.8" y1="1279" x2="1172.8" y2="1644" stroke="#111" stroke-width="1"/>
<line x1="1097.6" y1="1325" x2="1212" y2="1325" stroke="#111" stroke-width="1"/>
<rect x="1098.5" y="1632" width="113" height="12" fill="#cfcfcf"/>
<line x1="1097.6" y1="1644" x2="1212" y2="1644" stroke="#111" stroke-width="1.5"/>
<g font-size="6.5" fill="#111">
<text x="1102" y="1304">SOUS-BASSINS</text>
<text x="1192.5" y="1295" text-anchor="middle">Lame d'eau</text>
<text x="1192.5" y="1304" text-anchor="middle">moyenne</text>
<text x="1192.5" y="1313" text-anchor="middle">(mm/j)</text>
</g>
<g font-size="6.5" fill="#111">
<text x="1101" y="1334">Val d'Aran</text><text x="1101" y="1346.8">Garonne amont</text><text x="1101" y="1359.6">Neste</text><text x="1101" y="1372.4">Salat</text>
<text x="1101" y="1385.2">Volp - Arize</text><text x="1101" y="1398">Ariège amont</text><text x="1101" y="1410.8">Ariège - Lèze</text><text x="1101" y="1423.6">Hers Vif</text>
<text x="1101" y="1436.4">Hers Mort</text><text x="1101" y="1449.2">Garonne toulousaine</text><text x="1101" y="1462">Touch</text><text x="1101" y="1474.8">Save</text>
<text x="1101" y="1487.6">Gimone</text><text x="1101" y="1500.4">Tarn amont</text><text x="1101" y="1513.2">Tarn moyen</text><text x="1101" y="1526">Agout</text>
<text x="1101" y="1538.8">Tarn aval</text><text x="1101" y="1551.6">Aveyron</text><text x="1101" y="1564.4">Garonne agenaise</text><text x="1101" y="1577.2">Arrats</text>
<text x="1101" y="1590">Gers</text><text x="1101" y="1602.8">Baïse</text><text x="1101" y="1615.6">Lot amont - Truyère</text><text x="1101" y="1628.4">Lot aval</text>
<text x="1101" y="1641">Garonne aval</text>
</g>
<g font-size="7" fill="#111" text-anchor="middle">
<text x="1192.5" y="1334">16.5</text><text x="1192.5" y="1346.8">9.9</text><text x="1192.5" y="1359.6">11.1</text><text x="1192.5" y="1372.4">13.1</text>
<text x="1192.5" y="1385.2">10.4</text><text x="1192.5" y="1398">7.9</text><text x="1192.5" y="1410.8">10.3</text><text x="1192.5" y="1423.6">5.1</text>
<text x="1192.5" y="1436.4">15.4</text><text x="1192.5" y="1449.2">17.8</text><text x="1192.5" y="1462">13.5</text><text x="1192.5" y="1474.8">15.9</text>
<text x="1192.5" y="1487.6">16.8</text><text x="1192.5" y="1500.4">16.8</text><text x="1192.5" y="1513.2">19.5</text><text x="1192.5" y="1526">17.2</text>
<text x="1192.5" y="1538.8">15.1</text><text x="1192.5" y="1551.6">15.5</text><text x="1192.5" y="1564.4">8.6</text><text x="1192.5" y="1577.2">14.4</text>
<text x="1192.5" y="1590">12.8</text><text x="1192.5" y="1602.8">9.0</text><text x="1192.5" y="1615.6">13.2</text><text x="1192.5" y="1628.4">8.0</text>
</g>
<text x="1099" y="1655" font-size="7" fill="#1d3fb0">Volume total</text>
<text x="1099" y="1667" font-size="7" fill="#1d3fb0">précipité (hm³)</text>
<text x="1192.5" y="1661" font-size="7.5" font-weight="bold" fill="#1d3fb0" text-anchor="middle">636.7</text>

<text transform="translate(1234,1673) rotate(-90)" font-size="14" fill="#111" textLength="188">Bulletin élaboré avec Eaucéa</text>
<text transform="translate(1234,1453) rotate(-90)" font-size="14" fill="#111" textLength="121">eaucea@eaucea.fr</text>

<text x="571" y="1709" font-size="14.5" fill="#111" text-anchor="middle" textLength="322">Sméag, 61 rue Pierre Cazeneuve, 31200 Toulouse</text>
<text x="571" y="1734" font-size="14.5" fill="#111" text-anchor="middle" textLength="512">tel 05 62 72 76 00 - fax 05 62 72 27 84  - www.smeag.fr - www.lagaronne.com</text>
</svg>

<div class="p" style="top:1296px">Plusieurs épisodes pluvieux ont eu lieu cette semaine sur l’ensemble du</div>
<div class="p" style="top:1319.7px">bassin versant de la Garonne. Le plus significatif est intervenu le 27 et</div>
<div class="p" style="top:1343.5px">28 juillet (cf carte jointe). Ces pluies ont apporté un cumul de 636</div>
<div class="p" style="top:1367.2px">millions de m<sup>3</sup> précipités sur le bassin. Cela a entraîné des montées</div>
<div class="p" style="top:1390.9px">d'eau ponctuelles sur l'ensemble du linéaire de la Garonne. De</div>
<div class="p" style="top:1414.7px">nouvelles pluies ont eu lieu dans la nuit de jeudi à vendredi</div>
<div class="p" style="top:1438.4px">principalement sur la Neste et la Garonne. Le week-end prochain</div>
<div class="p" style="top:1462.1px">devrait également voir de nouvelles précipitations. Ce contexte</div>
<div class="p" style="top:1485.8px">météorologique, marqué par une variabilité importante des prévisions</div>
<div class="p" style="top:1509.6px">de quantité de pluie, conditionne les actions de lâchers et leur</div>
<div class="p" style="top:1533.3px">anticipation. En effet, avec les temps de propagation de l’eau dans la</div>
<div class="p" style="top:1557px">Garonne, les lâchers de soutien d’étiage demandent une anticipation</div>
<div class="p" style="top:1580.8px">importante du contexte météorologique et de leur impact sur les cours</div>
<div class="p" style="top:1604.5px">d’eau. Dans ce contexte, le Sméag a arrêté les lâchers, mais reste très</div>
<div class="p" style="top:1628.2px">vigilant à l’évolution météorologique. Il se tient prêt à redémarrer le</div>
<div class="p l" style="top:1652px">soutien d’étiage au besoin.</div>
</div>
</body></html>
